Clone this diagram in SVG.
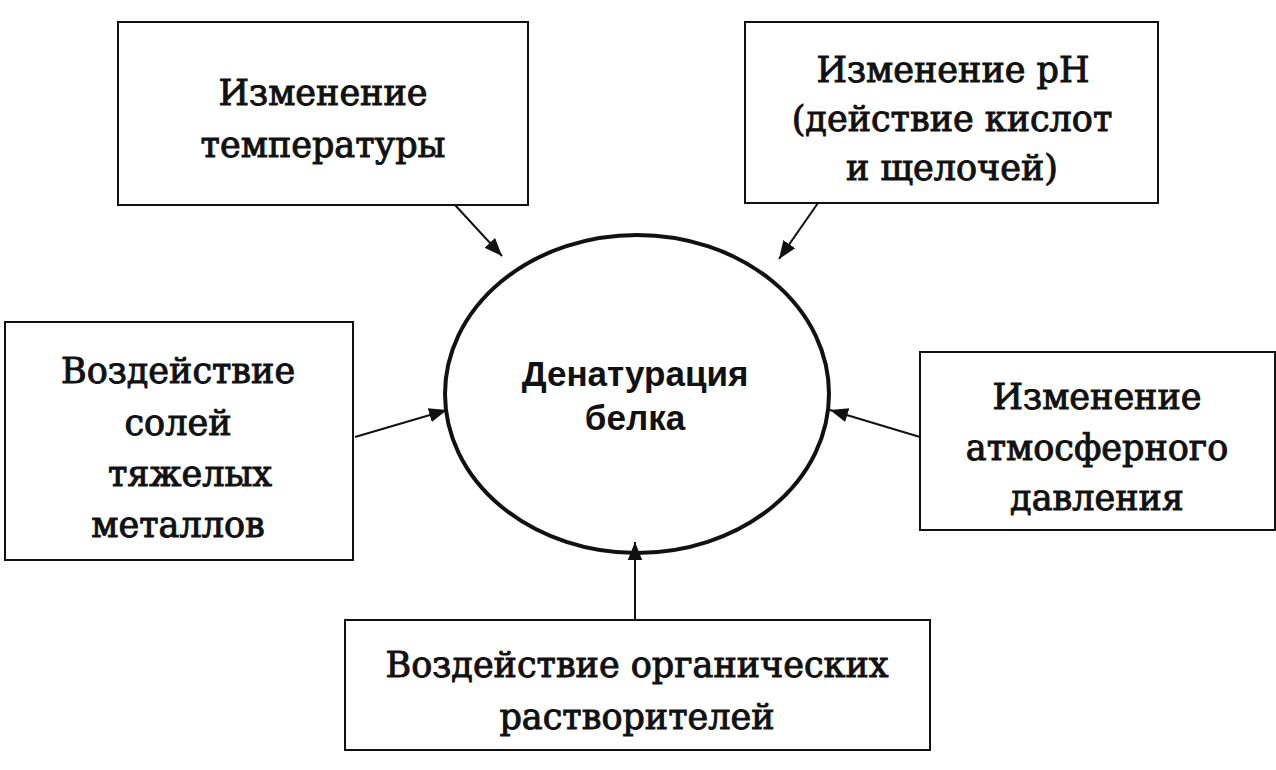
<svg xmlns="http://www.w3.org/2000/svg" width="1276" height="770" viewBox="0 0 1276 770">
<style>
rect{fill:#fff;stroke:#111;stroke-width:2}
.t{font-family:"DejaVu Serif",serif;font-size:35px;fill:#111;stroke:#111;stroke-width:1;text-anchor:middle}
.b{font-family:"Liberation Sans",Arial,sans-serif;font-size:35px;font-weight:bold;fill:#111;text-anchor:middle}
.c line{stroke:#111;stroke-width:2;marker-end:url(#a)}
</style>
<defs><marker id="a" viewBox="0 0 10 10" refX="10" refY="5" markerWidth="18" markerHeight="18" markerUnits="userSpaceOnUse" orient="auto"><path d="M0,1L10,5L0,9z" fill="#111"/></marker></defs>
<rect width="1276" height="770" style="stroke:none"/>
<g id="n1"><rect x="118" y="22" width="410" height="183"/><text class="t" x="323" y="105">Изменение</text><text class="t" x="323" y="157">температуры</text></g>
<g id="n2"><rect x="745" y="22" width="413" height="181"/><text class="t" x="953" y="82">Изменение pH</text><text class="t" x="952" y="131">(действие кислот</text><text class="t" x="952" y="180">и щелочей)</text></g>
<g id="n3"><rect x="5" y="322" width="348" height="238"/><text class="t" x="178" y="383">Воздействие</text><text class="t" x="178" y="435">солей</text><text class="t" x="190" y="486">тяжелых</text><text class="t" x="178" y="537">металлов</text></g>
<g id="n4"><rect x="920" y="352" width="355" height="178"/><text class="t" x="1097" y="409">Изменение</text><text class="t" x="1097" y="460">атмосферного</text><text class="t" x="1097" y="510">давления</text></g>
<g id="n5"><rect x="345" y="620" width="585" height="130"/><text class="t" x="637" y="677">Воздействие органических</text><text class="t" x="637" y="729">растворителей</text></g>
<g id="c0"><ellipse cx="637" cy="394" rx="192" ry="159" fill="#fff" stroke="#111" stroke-width="4"/><text class="b" x="635" y="386">Денатурация</text><text class="b" x="635" y="430">белка</text></g>
<g class="c">
<line x1="455" y1="205" x2="502" y2="256"/>
<line x1="818" y1="203" x2="779" y2="259"/>
<line x1="355" y1="437" x2="447" y2="410"/>
<line x1="920" y1="437" x2="830" y2="410"/>
<line x1="635" y1="620" x2="635" y2="542"/>
</g>
</svg>
